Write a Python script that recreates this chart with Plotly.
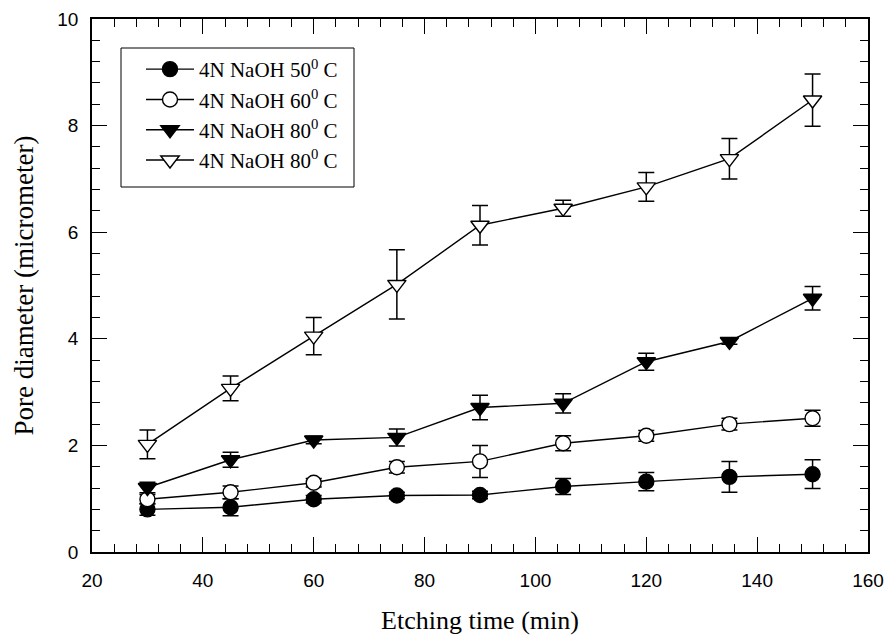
import plotly.graph_objects as go

etch_time = [30, 45, 60, 75, 90, 105, 120, 135, 150]

s50 = [0.80, 0.84, 0.99, 1.06, 1.07, 1.23, 1.32, 1.41, 1.46]
e50 = [0.11, 0.16, 0.07, 0.06, 0.07, 0.15, 0.17, 0.29, 0.27]

s60 = [0.99, 1.12, 1.30, 1.59, 1.70, 2.04, 2.18, 2.40, 2.51]
e60 = [0.09, 0.12, 0.08, 0.11, 0.30, 0.14, 0.10, 0.11, 0.15]

s80a = [1.21, 1.73, 2.10, 2.15, 2.71, 2.79, 3.57, 3.95, 4.76]
e80a = [0.10, 0.14, 0.07, 0.16, 0.23, 0.18, 0.16, 0.05, 0.22]

s80b = [2.02, 3.07, 4.05, 5.02, 6.13, 6.45, 6.85, 7.38, 8.48]
e80b = [0.27, 0.23, 0.35, 0.65, 0.37, 0.15, 0.27, 0.38, 0.49]

names = ["4N NaOH 50<sup>0</sup> C", "4N NaOH 60<sup>0</sup> C",
         "4N NaOH 80<sup>0</sup> C", "4N NaOH 80<sup>0</sup> C"]

series = [
    (s50, e50, "circle", "black", 15),
    (s60, e60, "circle", "white", 15),
    (s80a, e80a, "triangle-down", "black", 16),
    (s80b, e80b, "triangle-down", "white", 16),
]

fig = go.Figure()
for (vals, errs, sym, fill, size), nm in zip(series, names):
    fig.add_trace(go.Scatter(
        x=etch_time, y=vals, name=nm, mode="lines+markers",
        line=dict(color="black", width=1.4),
        marker=dict(symbol=sym, size=size, color=fill,
                    line=dict(color="black", width=1.4)),
        error_y=dict(type="data", array=errs, visible=True,
                     color="black", thickness=1.5, width=8),
    ))

axis_common = dict(
    showline=True, linecolor="black", linewidth=1.6, mirror="ticks",
    ticks="inside", ticklen=15, tickwidth=1.3, tickcolor="black",
    showgrid=False, zeroline=False, automargin=False,
    tickfont=dict(family="Liberation Sans, Arial", size=19, color="black"),
)

fig.update_xaxes(range=[20, 160], dtick=20, tick0=20,
                 minor=dict(ticks="inside", ticklen=8, dtick=4, tick0=20,
                            tickcolor="black", tickwidth=1.3, showgrid=False),
                 ticklabelstandoff=10,
                 title=dict(text="Etching time (min)", standoff=22,
                            font=dict(family="Liberation Serif, Times New Roman", size=26, color="black")),
                 **axis_common)
fig.update_yaxes(range=[0, 10], dtick=2, tick0=0,
                 minor=dict(ticks="inside", ticklen=8, dtick=0.4, tick0=0,
                            tickcolor="black", tickwidth=1.3, showgrid=False),
                 ticklabelstandoff=8,
                 title=dict(text="Pore diameter (micrometer)", standoff=16,
                            font=dict(family="Liberation Serif, Times New Roman", size=27, color="black")),
                 **axis_common)

fig.add_shape(type="rect", xref="paper", yref="paper",
              x0=(121 - 92) / 776, x1=(354 - 92) / 776,
              y0=(552 - 187) / 533, y1=(552 - 48) / 533,
              line=dict(color="black", width=1), fillcolor="rgba(0,0,0,0)", layer="above")

fig.update_layout(
    width=891, height=635,
    margin=dict(l=92, r=23, t=19, b=83),
    plot_bgcolor="white", paper_bgcolor="white",
    showlegend=True,
    legend=dict(x=(141 - 92) / 776, y=(552 - 49) / 533, xanchor="left", yanchor="top",
                bgcolor="rgba(0,0,0,0)", borderwidth=0, itemwidth=48,
                font=dict(family="Liberation Serif, Times New Roman", size=21, color="black"),
                tracegroupgap=0),
)

fig.write_html("out.html")
